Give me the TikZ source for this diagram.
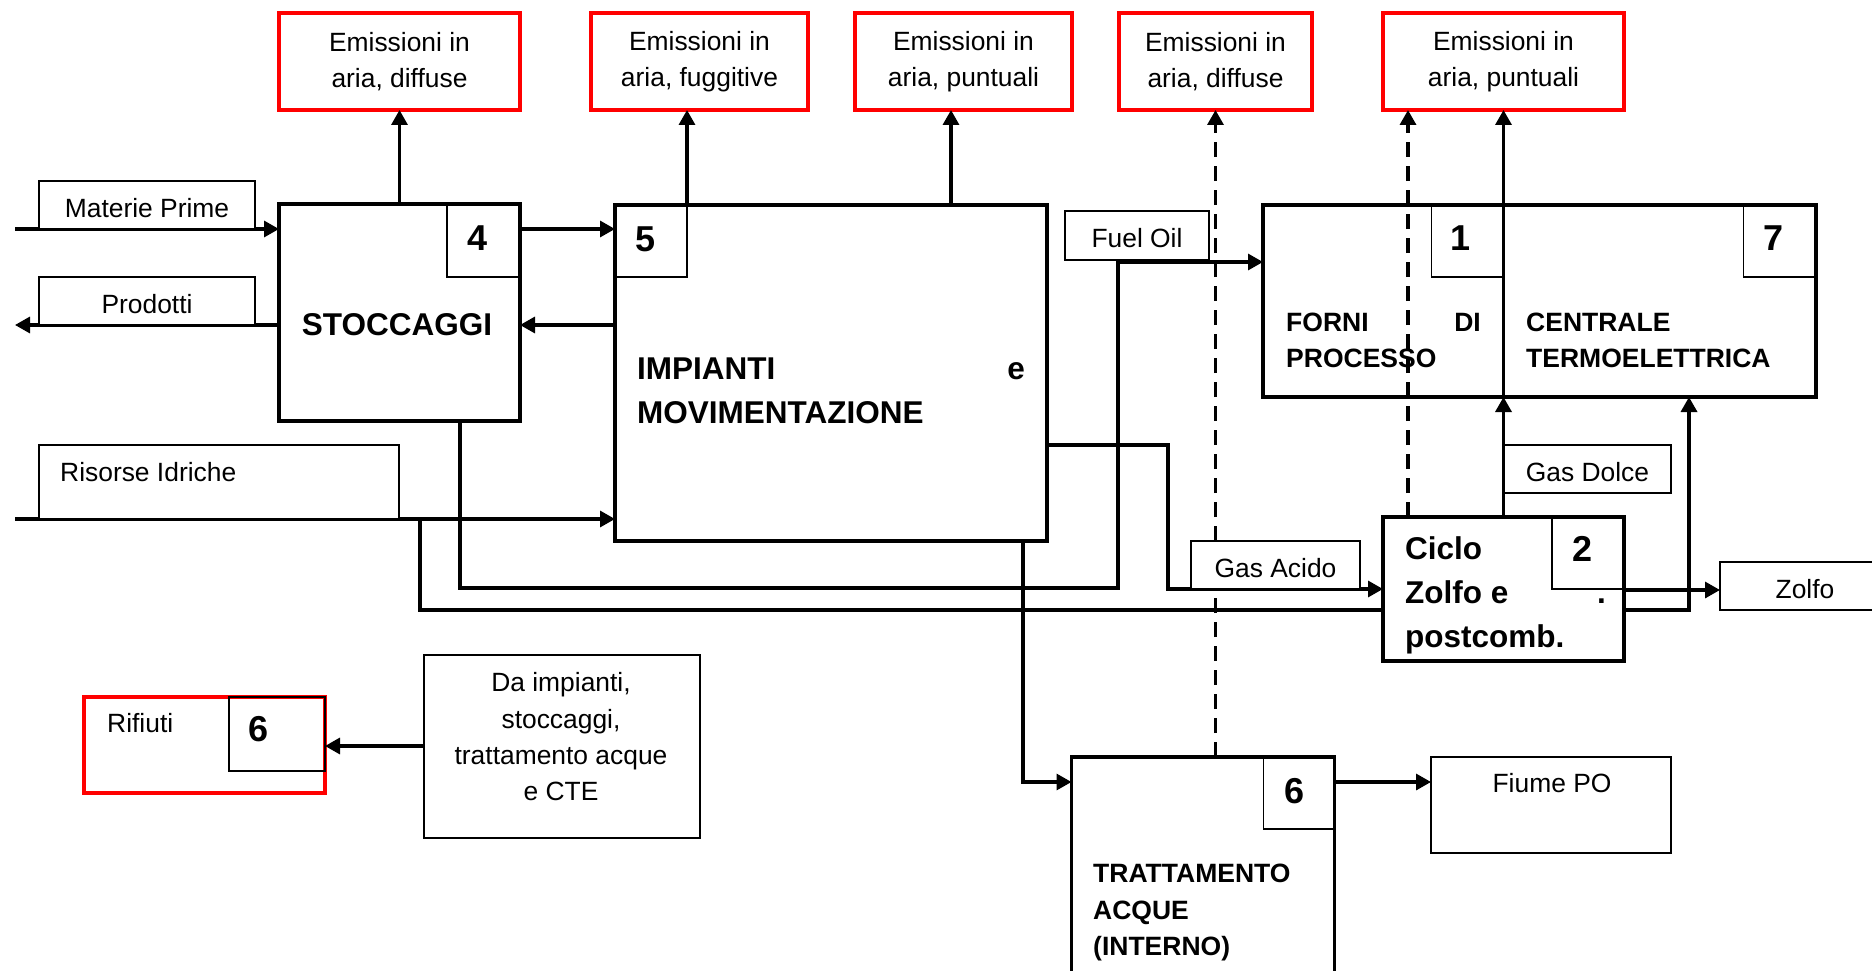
\documentclass[tikz,border=0pt]{standalone}
\usepackage{fontspec}
\setmainfont{Liberation Sans}
\usetikzlibrary{arrows.meta}
\newcommand\myNorm{\fontsize{26.4}{36.3}\selectfont}
\newcommand\myBig{\fontsize{31.5}{44}\selectfont\bfseries}
\newcommand\myMid{\fontsize{26.5}{36.8}\selectfont\bfseries}
\newcommand\myNum{\fontsize{36}{40}\selectfont\bfseries}
\tikzset{
  mainbox/.style={draw=black, line width=3.8pt, fill=white, inner sep=0pt, outer sep=0pt, anchor=north west},
  numbox/.style={draw=black, line width=1.6pt, inner sep=0pt, outer sep=0pt, anchor=north west},
  lblbox/.style={draw=black, line width=1.6pt, fill=white, inner sep=0pt, outer sep=0pt, anchor=north west, font=\myNorm, text height=24pt, text depth=0pt},
  emisbox/.style={draw=red, line width=3.2pt, fill=white, inner sep=0pt, outer sep=0pt, anchor=north west, align=center, font=\myNorm},
  flow/.style={line width=3.3pt, -{Triangle[length=15pt,width=16pt]}},
  plain/.style={line width=3.3pt},
  dflow/.style={flow, dash pattern=on 15pt off 9pt},
  txt/.style={inner sep=0pt, font=\myNorm},
  bigtxt/.style={inner sep=0pt, font=\myBig},
  midtxt/.style={inner sep=0pt, font=\myMid},
  numtxt/.style={inner sep=0pt, font=\myNum},
}
\begin{document}
\begin{tikzpicture}[x=1pt,y=-1pt]
\useasboundingbox (0,0) rectangle (1872,971);
\fill[white] (0,0) rectangle (1872,971);

% main boxes
\node[mainbox, minimum width=241pt, minimum height=217pt] (stocc) at (279,204) {};
\node[mainbox, minimum width=432pt, minimum height=336pt] (imp) at (615,205) {};
\node[mainbox, minimum width=240.5pt, minimum height=192pt] (forni) at (1263,205) {};
\node[mainbox, minimum width=312.5pt, minimum height=192pt] (cte) at (1503.5,205) {};
\node[mainbox, minimum width=241pt, minimum height=144pt] (ciclo) at (1383,517) {};
\node[mainbox, minimum width=263pt, minimum height=240pt] (tratt) at (1071.5,757) {};
\node[mainbox, draw=red, line width=3.2pt, minimum width=241pt, minimum height=96pt] (rif) at (84,697) {};

% number boxes
\node[numbox, minimum width=73pt, minimum height=73pt] (n4) at (447,204) {};
\node[numbox, minimum width=72pt, minimum height=72pt] (n5) at (615,205) {};
\node[numbox, minimum width=72pt, minimum height=72pt] (n1) at (1431.5,205) {};
\node[numbox, minimum width=72.5pt, minimum height=72pt] (n7) at (1743.5,205) {};
\node[numbox, minimum width=72pt, minimum height=72pt] (n2) at (1552,517) {};
\node[numbox, minimum width=71pt, minimum height=72pt] (n6t) at (1263.5,757) {};
\node[numbox, minimum width=96pt, minimum height=74pt] (n6r) at (229,697) {};

% numbers
\node[numtxt] (d4) at (477.6,237.7) {4};
\node[numtxt] (d5) at (645.5,239) {5};
\node[numtxt] (d1) at (1460.6,238.5) {1};
\node[numtxt] (d7) at (1773.5,238.5) {7};
\node[numtxt] (d2) at (1582,549) {2};
\node[numtxt] (d6t) at (1294,791.5) {6};
\node[numtxt] (d6r) at (259,729.5) {6};

% texts in main boxes
\node[bigtxt] (tstocc) at (397,325) {STOCCAGGI};
\node[bigtxt, anchor=base west] (timp1) at (637,379) {IMPIANTI};
\node[bigtxt, anchor=base east] (timp2) at (1025,379) {e};
\node[bigtxt, anchor=base west] (timp3) at (637,423) {MOVIMENTAZIONE};
\node[midtxt, anchor=base west] (tf1) at (1286,331) {FORNI};
\node[midtxt, anchor=base east] (tf2) at (1481,331) {DI};
\node[midtxt, anchor=base west] (tf3) at (1286,367) {PROCESSO};
\node[midtxt, anchor=base west] (tc1) at (1526,331) {CENTRALE};
\node[midtxt, anchor=base west] (tc2) at (1526,367) {TERMOELETTRICA};
\node[bigtxt, anchor=base west] (tz1) at (1405,559.5) {Ciclo};
\node[bigtxt, anchor=base west] (tz2) at (1405,603) {Zolfo e};
\node[bigtxt, anchor=base west] (tz3) at (1597,603) {.};
\node[bigtxt, anchor=base west] (tz4) at (1405,647) {postcomb.};
\node[midtxt, anchor=base west] (tt1) at (1093,882) {TRATTAMENTO};
\node[midtxt, anchor=base west] (tt2) at (1093,919) {ACQUE};
\node[midtxt, anchor=base west] (tt3) at (1093,955.7) {(INTERNO)};
\node[txt, anchor=base west] (trif) at (107,732.5) {Rifiuti};

% coordinates
\coordinate (mpL) at (15,229);
\coordinate (prL) at (15,325);
\coordinate (riL) at (15,519);
\coordinate (riB) at (420,519);
\coordinate (riC) at (420,610);
\coordinate (riD) at (1689,610);
\coordinate (imp3) at (951,205);
\coordinate (sfx) at (460,588);
\coordinate (sfy) at (1118,588);
\coordinate (sfz) at (1118,262);
\coordinate (gaA) at (1168,445);
\coordinate (gaB) at (1168,589);
\coordinate (zoA) at (1624,590);
\coordinate (dz) at (1408,517);
\coordinate (trA) at (1023,782);
\coordinate (rfA) at (424,746);

% emission boxes
\node[emisbox, minimum width=241pt, minimum height=97pt] (e1) at (279,13) {Emissioni in\\aria, diffuse};
\node[emisbox, minimum width=217pt, minimum height=97pt] (e2) at (591,13) {Emissioni in\\aria, fuggitive};
\node[emisbox, minimum width=217pt, minimum height=97pt] (e3) at (855,13) {Emissioni in\\aria, puntuali};
\node[emisbox, minimum width=193pt, minimum height=97pt] (e4) at (1119,13) {Emissioni in\\aria, diffuse};
\node[emisbox, minimum width=241pt, minimum height=97pt] (e5) at (1383,13) {Emissioni in\\aria, puntuali};

% connectors
\draw[flow] (mpL) -- (mpL -| stocc.west);
\draw[flow] (prL -| stocc.west) -- (prL);
\draw[flow] (stocc.north) -- (e1.south);
\draw[flow] (mpL -| stocc.east) -- (mpL -| imp.west);
\draw[flow] (prL -| imp.west) -- (prL -| stocc.east);
\draw[flow] (n5.north east) -- (n5.north east |- e2.south);
\draw[flow] (imp3) -- (imp3 |- e3.south);
\draw[flow] (riL) -- (riL -| imp.west);
\draw[plain] (riB) -- (riC) -- (riC -| ciclo.west);
\draw[flow] (riD -| ciclo.east) -- (riD) -- (riD |- cte.south);
\draw[flow] (sfx |- stocc.south) -- (sfx) -- (sfy) -- (sfz) -- (sfz -| forni.west);
\draw[flow] (gaA -| imp.east) -- (gaA) -- (gaB) -- (gaB -| ciclo.west);
\draw[flow] (ciclo.north) -- (forni.south east);
\draw[flow] (forni.north east) -- (e5.south);
\draw[dflow] (tratt.north -| e4.south) -- (e4.south);
\draw[dflow] (dz) -- (dz |- e5.south);
\draw[flow] (trA |- imp.south) -- (trA) -- (trA -| tratt.west);

% label boxes
\node[lblbox, minimum width=216pt, minimum height=48pt] (mp) at (39,181) {Materie Prime};
\node[lblbox, minimum width=216pt, minimum height=48pt] (pr) at (39,277) {Prodotti};
\node[lblbox, minimum width=360pt, minimum height=74pt] (ri) at (39,445) {};
\node[txt, anchor=base west] (tri) at (60,481.5) {Risorse Idriche};
\node[lblbox, minimum width=144pt, minimum height=49pt] (fo) at (1065,211) {Fuel Oil};
\node[lblbox, minimum width=169pt, minimum height=48pt] (ga) at (1191,541) {Gas Acido};
\node[lblbox, minimum width=167pt, minimum height=48pt] (gd) at (1504,445) {Gas Dolce};
\node[lblbox, minimum width=170pt, minimum height=48pt] (zo) at (1720,562) {Zolfo};
\node[lblbox, minimum width=240pt, minimum height=96pt] (fi) at (1431,757) {};
\node[txt, anchor=base] (tfi) at (1552,792.5) {Fiume PO};
\node[lblbox, minimum width=276pt, minimum height=183pt] (da) at (424,655) {};
\node[txt, align=center] (tda) at (561,737) {Da impianti,\\stoccaggi,\\trattamento acque\\e CTE};

\draw[flow] (zoA -| ciclo.east) -- (zoA -| zo.west);
\draw[flow] (trA -| tratt.east) -- (trA -| fi.west);
\draw[flow] (rfA -| da.west) -- (rfA -| rif.east);
\end{tikzpicture}
\end{document}
